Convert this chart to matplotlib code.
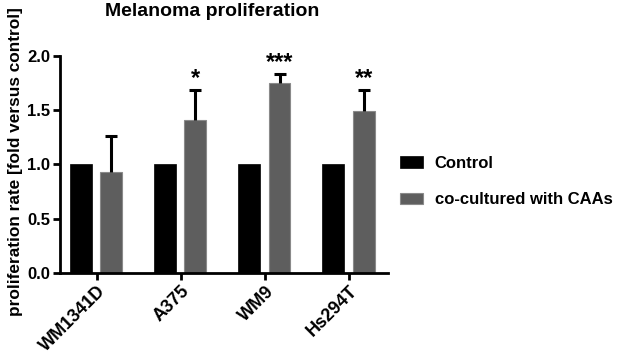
import matplotlib
matplotlib.use("Agg")
import matplotlib.pyplot as plt
import numpy as np

plt.rcParams['font.family'] = ['Liberation Sans', 'DejaVu Sans']
plt.rcParams['font.weight'] = 'bold'

categories = ["WM1341D", "A375", "WM9", "Hs294T"]
control = [1.0, 1.0, 1.0, 1.0]
cocultured = [0.93, 1.41, 1.75, 1.49]
cocultured_err = [0.33, 0.27, 0.08, 0.19]
significance = ["", "*", "***", "**"]
series_names = ["Control", "co-cultured with CAAs"]
yticks = [0.0, 0.5, 1.0, 1.5, 2.0]

fig = plt.figure(figsize=(6.28, 3.56), dpi=100)
ax = fig.add_axes([60/628, 1 - 273/356, (388-60)/628, (273-55.7)/356])

x = np.arange(len(categories))
w = 0.26
ax.bar(x - 0.19, control, w, color="#000000", edgecolor="#000000", linewidth=0.5,
       label=series_names[0], zorder=2)
ax.bar(x + 0.17, cocultured, w, color="#5e5e5e", edgecolor="#8a8a8a", linewidth=0.8,
       label=series_names[1], zorder=2)
# one-sided error bars (upper only)
eb = ax.errorbar(x + 0.17, cocultured, yerr=[np.zeros(len(cocultured)), cocultured_err],
                 fmt="none", ecolor="#000000", elinewidth=2.2, capsize=4.5, capthick=2.2, zorder=3)
caps = eb[1]
if len(caps) == 2:
    caps[0].set_visible(False)
for xi, v, e, s in zip(x, cocultured, cocultured_err, significance):
    if s:
        ax.text(xi + 0.17, v + e + 0.005, s, ha="center", va="bottom",
                fontsize=17, fontweight="bold", color="black")

ax.set_xlim(-0.44, 3.46)
ax.set_ylim(0, 2.0)
ax.set_yticks(yticks)
ax.set_yticklabels([f"{t:.1f}" for t in yticks])
ax.set_xticks(x)
ax.set_xticklabels(categories, rotation=45, ha="right", rotation_mode="anchor")

for sp in ["top", "right"]:
    ax.spines[sp].set_visible(False)
for sp in ["left", "bottom"]:
    ax.spines[sp].set_linewidth(2)
ax.tick_params(axis="both", width=2, length=5, colors="black")
ax.tick_params(axis="y", labelsize=12, pad=2)
ax.tick_params(axis="x", labelsize=13, pad=2)
for lbl in ax.get_xticklabels() + ax.get_yticklabels():
    lbl.set_fontweight("bold")

ax.set_ylabel("proliferation rate [fold versus control]", fontsize=12.4, fontweight="bold")
ax.yaxis.set_label_coords(-0.113, 0.515)
fig.text(212/628, 1 - 12/356, "Melanoma proliferation", ha="center", va="center",
         fontsize=14, fontweight="bold")

leg = ax.legend(loc="center left", bbox_to_anchor=(0.99, 0.421), frameon=False,
                fontsize=12, handlelength=1.4, handleheight=0.7,
                labelspacing=1.3, handletextpad=0.7)
for t in leg.get_texts():
    t.set_fontweight("bold")

fig.savefig("out.png", dpi=100)
